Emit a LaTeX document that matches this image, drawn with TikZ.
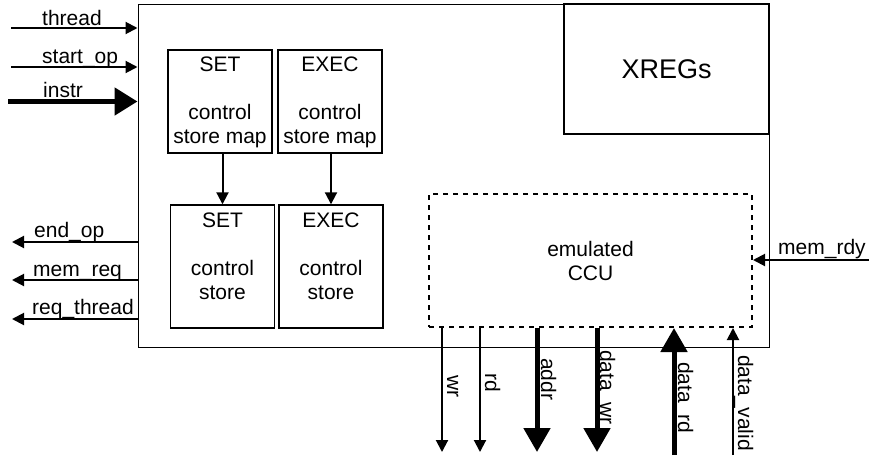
\documentclass[tikz,border=0pt]{standalone}
\usepackage{fontspec}
\setmainfont{Liberation Sans}
\usetikzlibrary{arrows.meta,positioning,calc}
\tikzset{
  blk/.style={draw, line width=1.4pt, minimum width=104pt, inner sep=0pt},
  txt/.style={inner sep=0pt, align=center, anchor=north},
  sig/.style={line width=2pt, -{Triangle[length=12pt,width=12pt]}},
  bus/.style={line width=5pt, -{Triangle[length=24pt,width=26pt]}},
  lbl/.style={inner sep=0pt, anchor=base west},
  vlbl/.style={inner sep=0pt, anchor=base west, rotate=-90},
}

\begin{document}
\begin{tikzpicture}[x=1pt,y=-1pt,font=\fontsize{21}{24}\selectfont]
  \useasboundingbox (0,0) rectangle (869,455);
  \node[draw, line width=1pt, minimum width=631pt, minimum height=343pt, inner sep=0pt] (core) at (453.5,175.5) {};
  \node[draw, line width=1.2pt, minimum width=205pt, minimum height=130pt, inner sep=0pt, font=\fontsize{27}{30}\selectfont] (xregs) at (666.5,69) {XREGs};
  \node[blk, minimum height=103pt] (setmap) at (220,101.5) {};
  \node[blk, minimum height=103pt] (execmap) at (330,101.5) {};
  \node[blk, minimum height=123pt] (setcs) at (222.5,266.5) {};
  \node[blk, minimum height=123pt] (execcs) at (331,266.5) {};
  \node[txt, below=7.5pt of setmap.north] (setmaptxt) {SET\\[24pt]control\\store map};
  \node[txt, below=7.5pt of execmap.north] (execmaptxt) {EXEC\\[24pt]control\\store map};
  \node[txt, below=8pt of setcs.north] (setcstxt) {SET\\[24pt]control\\store};
  \node[txt, below=8pt of execcs.north] (execcstxt) {EXEC\\[24pt]control\\store};
  \draw[sig] (setcs.north |- setmap.south) -- (setcs.north);
  \draw[sig] (execcs.north |- execmap.south) -- (execcs.north);
  \node[draw, line width=2pt, dash pattern=on 5pt off 5pt, minimum width=323pt, minimum height=133pt, inner sep=0pt, align=center] (ccu) at (590.5,260.5) {emulated\\CCU};
  % inputs
  \coordinate (thr) at (11,28);
  \coordinate (sop) at (11,67);
  \coordinate (ins) at (8,101.5);
  \draw[sig] (thr) -- (thr -| core.west);
  \draw[sig] (sop) -- (sop -| core.west);
  \draw[bus, -{Triangle[length=23pt,width=27pt]}] (ins) -- (ins -| core.west);
  \node[lbl] (thrl) at (42,25) {thread};
  \node[lbl] (sopl) at (42,63) {start\_op};
  \node[lbl] (insl) at (43,97) {instr};
  % outputs
  \coordinate (eop) at (12,242);
  \coordinate (mreq) at (12,280);
  \coordinate (rthr) at (12,319);
  \draw[sig] (eop -| core.west) -- (eop);
  \draw[sig] (mreq -| core.west) -- (mreq);
  \draw[sig] (rthr -| core.west) -- (rthr);
  \node[lbl] (eopl) at (34,237) {end\_op};
  \node[lbl] (mreql) at (33,276) {mem\_req};
  \node[lbl] (rthrl) at (32,314) {req\_thread};
  \coordinate (mrdy) at (869,260);
  \draw[sig] (mrdy) -- (mrdy -| ccu.east);
  \node[lbl] (mrdyl) at (778,254) {mem\_rdy};
  % memory side
  \coordinate (wr) at (442,452);
  \coordinate (rd) at (480,452);
  \coordinate (addr) at (537,452);
  \coordinate (dwr) at (597,452);
  \coordinate (drd) at (674,455);
  \coordinate (dvld) at (733,455);
  \draw[sig] (wr |- ccu.south) -- (wr);
  \draw[sig] (rd |- ccu.south) -- (rd);
  \draw[bus] (addr |- ccu.south) -- (addr);
  \draw[bus] (dwr |- ccu.south) -- (dwr);
  \draw[bus] (drd) -- (drd |- ccu.south);
  \draw[sig] (dvld) -- (dvld |- ccu.south);
  \node[vlbl] (wrl) at (447,375) {wr};
  \node[vlbl] (rdl) at (485,373) {rd};
  \node[vlbl] (addrl) at (541,358) {addr};
  \node[vlbl] (dwrl) at (600,350) {data\_wr};
  \node[vlbl] (drdl) at (678,362) {data\_rd};
  \node[vlbl] (dvldl) at (738,355) {data\_valid};
\end{tikzpicture}
\end{document}
